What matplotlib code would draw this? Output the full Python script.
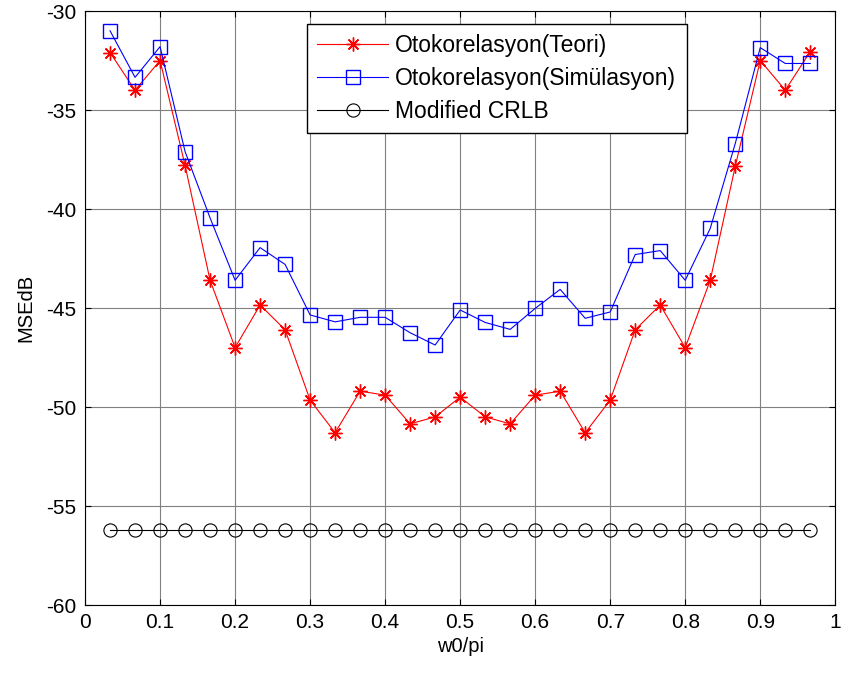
import numpy as np
import matplotlib
matplotlib.use("Agg")
import matplotlib.pyplot as plt

plt.rcParams['font.family'] = ['Liberation Sans', 'DejaVu Sans']

# Normalized frequency points w0/pi
w0 = [1/30, 2/30, 3/30, 4/30, 5/30, 6/30, 7/30, 8/30, 9/30, 10/30,
      11/30, 12/30, 13/30, 14/30, 15/30, 16/30, 17/30, 18/30, 19/30, 20/30,
      21/30, 22/30, 23/30, 24/30, 25/30, 26/30, 27/30, 28/30, 29/30]

# Theoretical MSE (dB), autocorrelation estimator
mse_teori = [-32.1, -34.0, -32.5, -37.8, -43.6, -47.0, -44.85, -46.1, -49.65, -51.3,
             -49.2, -49.4, -50.85, -50.5, -49.5, -50.5, -50.85, -49.4, -49.2, -51.3,
             -49.65, -46.1, -44.85, -47.0, -43.6, -37.85, -32.5, -34.0, -32.05]

# Simulated MSE (dB), autocorrelation estimator
mse_sim = [-31.0, -33.35, -31.8, -37.1, -40.45, -43.6, -41.95, -42.8, -45.35, -45.7,
           -45.47, -45.47, -46.25, -46.87, -45.1, -45.73, -46.08, -45.02, -44.06, -45.52,
           -45.2, -42.3, -42.1, -43.6, -40.98, -36.7, -31.85, -32.65, -32.65]

# Modified CRLB (dB)
crlb = [-56.2] * 29

xticks = [0, 0.1, 0.2, 0.3, 0.4, 0.5, 0.6, 0.7, 0.8, 0.9, 1]
xticklabels = ['0', '0.1', '0.2', '0.3', '0.4', '0.5', '0.6', '0.7', '0.8', '0.9', '1']
yticks = [-60, -55, -50, -45, -40, -35, -30]
yticklabels = ['-60', '-55', '-50', '-45', '-40', '-35', '-30']

fig = plt.figure(figsize=(8.42, 6.75), dpi=100)
ax = fig.add_axes([0.101, 0.1037, 0.891, 0.88])

ax.plot(w0, mse_teori, color='#ff0000', lw=0.8, marker=(8, 2, 0), ms=10,
        mew=1.0, label='Otokorelasyon(Teori)')
ax.plot(w0, mse_sim, color='#0000ff', lw=0.8, marker='s', ms=10, mfc='none',
        mew=1.0, label='Otokorelasyon(Simülasyon)')
ax.plot(w0, crlb, color='black', lw=0.8, marker='o', ms=9.5, mfc='none',
        mew=0.8, label='Modified CRLB')

ax.set_xlim(0, 1)
ax.set_ylim(-60, -30)
ax.set_xticks(xticks)
ax.set_xticklabels(xticklabels)
ax.set_yticks(yticks)
ax.set_yticklabels(yticklabels)
ax.tick_params(direction='in', top=True, right=True, labelsize=15, length=4, pad=6)
ax.grid(True, color='#808080', lw=0.8)
for s in ax.spines.values():
    s.set_linewidth(0.8)

ax.set_xlabel('w0/pi', fontsize=14.5, labelpad=3)
ax.set_ylabel('MSEdB', fontsize=14.5, labelpad=8)

leg = ax.legend(loc='upper left', bbox_to_anchor=(0.296, 0.978), fontsize=16.5,
                fancybox=False, framealpha=1, edgecolor='black', handlelength=3.1,
                handletextpad=0.3, borderpad=0.45, labelspacing=0.42,
                borderaxespad=0)
leg.get_frame().set_linewidth(1.0)

fig.savefig('out.png', dpi=100)
